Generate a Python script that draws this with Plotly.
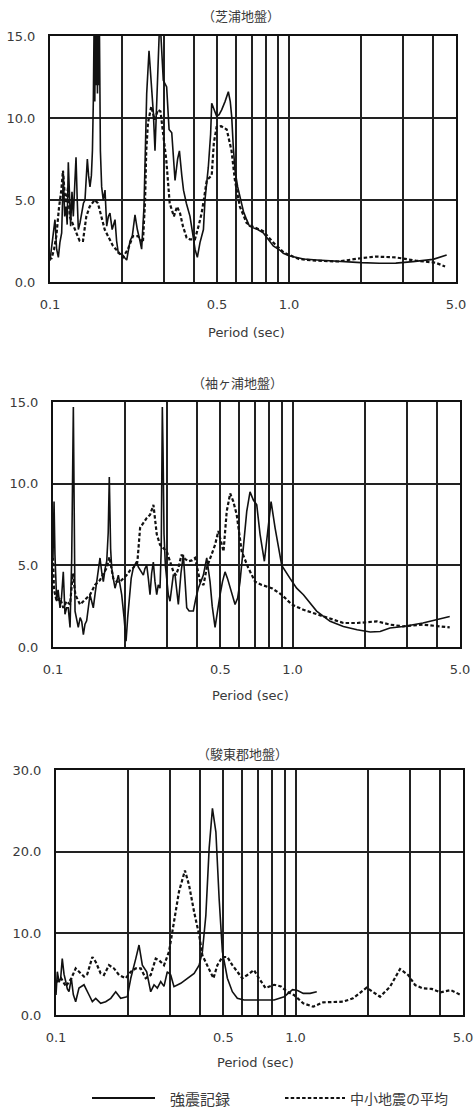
import plotly.graph_objects as go

W, H = 474, 1109

# ---------------- data ----------------
grid_periods = [0.1, 0.2, 0.3, 0.4, 0.5, 0.6, 0.7, 0.8, 0.9, 1.0, 2.0, 3.0, 4.0, 5.0]
grid_labels = ["0.1", "", "", "", "0.5", "", "", "", "", "1.0", "", "", "", "5.0"]
y15_vals = [0, 5, 10, 15]
y15_labels = ["0.0", "5.0", "10.0", "15.0"]
y30_vals = [0, 10, 20, 30]
y30_labels = ["0.0", "10.0", "20.0", "30.0"]

panel_titles = ["（芝浦地盤）", "（袖ヶ浦地盤）", "（駿東郡地盤）"]
x_title = "Period (sec)"
series_names = ["強震記録", "中小地震の平均"]

# 芝浦地盤
shibaura_strong_T = [0.100, 0.1049, 0.1066, 0.1084, 0.1100, 0.1119, 0.1137, 0.1152, 0.1167, 0.1180,
                     0.1193, 0.1207, 0.1220, 0.1236, 0.1252, 0.1270, 0.1285, 0.1300, 0.1314, 0.1335,
                     0.1357, 0.1380, 0.1401, 0.1420, 0.1433, 0.1450, 0.1470, 0.1490, 0.1505, 0.1518,
                     0.1530, 0.1540, 0.1550, 0.1560, 0.1570, 0.1580, 0.1590, 0.1600, 0.1610, 0.1625,
                     0.1645, 0.1670, 0.1699, 0.1727, 0.1755, 0.1782, 0.1820, 0.1871, 0.1900, 0.1932,
                     0.2000, 0.2050, 0.2094, 0.2162, 0.2210, 0.2268, 0.2320, 0.2380, 0.2418, 0.2474,
                     0.2510, 0.2539, 0.2596, 0.2630, 0.2664, 0.2707, 0.2750, 0.2795, 0.2839, 0.2870,
                     0.2900, 0.2979, 0.3077, 0.3150, 0.3232, 0.3290, 0.3336, 0.3420, 0.3480, 0.3560,
                     0.3620, 0.3720, 0.3853, 0.3950, 0.4044, 0.4136, 0.4243, 0.4386, 0.4452, 0.4597,
                     0.4700, 0.4750, 0.4850, 0.4982, 0.5100, 0.5228, 0.5400, 0.5576, 0.5680, 0.5758,
                     0.5850, 0.5946, 0.6100, 0.6237, 0.6450, 0.6652, 0.6836, 0.7095, 0.7400, 0.7803,
                     0.8200, 0.8597, 0.9146, 0.9469, 1.000, 1.077, 1.150, 1.308, 1.500, 1.735,
                     2.000, 2.390, 2.800, 3.300, 4.010, 4.570]
shibaura_strong_A = [1.3, 3.8, 2.0, 1.5, 2.4, 3.0, 6.6, 4.0, 4.6, 3.5,
                     7.3, 4.5, 3.4, 5.5, 4.0, 6.0, 7.6, 5.0, 3.2, 3.6,
                     4.2, 4.8, 5.0, 6.5, 7.5, 6.5, 5.8, 6.5, 8.0, 11.0,
                     16.0, 11.0, 16.0, 12.0, 16.0, 11.5, 16.0, 12.0, 15.5, 8.0,
                     5.8, 5.0, 5.6, 3.4, 4.0, 4.2, 3.2, 3.8, 2.5, 1.75,
                     1.7, 1.5, 1.34, 2.5, 2.8, 4.1, 3.2, 2.5, 2.0, 4.6,
                     8.0, 11.5, 14.1, 13.0, 11.7, 10.3, 8.0, 10.7, 12.1, 15.5,
                     15.5, 12.3, 11.9, 9.3, 9.1, 7.0, 6.2, 7.5, 8.0, 6.5,
                     5.6, 4.8, 4.0, 3.0, 2.0, 1.5, 2.4, 3.2, 5.0, 7.0,
                     9.0, 10.9, 10.6, 10.1, 10.2, 10.5, 11.0, 11.6, 11.0, 10.1,
                     8.2, 6.8, 5.8, 5.2, 4.3, 3.8, 3.4, 3.3, 3.2, 3.0,
                     2.6, 2.2, 1.95, 1.75, 1.6, 1.5, 1.4, 1.34, 1.28, 1.24,
                     1.18, 1.14, 1.15, 1.24, 1.38, 1.65]
shibaura_mean_T = [0.1000, 0.1013, 0.1040, 0.1063, 0.1090, 0.1115, 0.1133, 0.1150, 0.1170, 0.1190,
                   0.1209, 0.1240, 0.1268, 0.1300, 0.1331, 0.1374, 0.1419, 0.1466, 0.1538, 0.1587,
                   0.1639, 0.1694, 0.1749, 0.1835, 0.1925, 0.2020, 0.2119, 0.2223, 0.2333, 0.2448,
                   0.2500, 0.2528, 0.2570, 0.2653, 0.2740, 0.2831, 0.2900, 0.2970, 0.3068, 0.3169,
                   0.3236, 0.3300, 0.3400, 0.3500, 0.3600, 0.3730, 0.3850, 0.4040, 0.4200, 0.4310,
                   0.4400, 0.4530, 0.4750, 0.4850, 0.4980, 0.5200, 0.5490, 0.5750, 0.5940, 0.6230,
                   0.6650, 0.7000, 0.7800, 0.8600, 0.9500, 1.100, 1.300, 1.600, 2.000, 2.300,
                   2.800, 3.400, 4.100, 4.500]
shibaura_mean_A = [1.5, 1.4, 2.0, 2.8, 4.5, 5.6, 6.8, 5.5, 4.8, 5.8,
                   4.0, 3.6, 3.2, 2.8, 2.5, 2.5, 4.0, 4.6, 5.0, 4.8,
                   4.0, 3.2, 2.8, 2.2, 1.85, 1.5, 2.0, 2.8, 2.8, 2.4,
                   5.0, 8.0, 9.7, 10.7, 9.9, 10.5, 10.4, 9.0, 7.4, 4.8,
                   4.4, 4.0, 4.6, 4.2, 3.4, 2.7, 2.6, 2.6, 3.5, 4.2,
                   5.0, 6.2, 6.5, 8.5, 9.45, 9.5, 9.3, 8.0, 6.2, 4.6,
                   3.6, 3.4, 3.1, 2.4, 1.8, 1.4, 1.3, 1.25, 1.45, 1.55,
                   1.5, 1.3, 1.18, 0.95]

# 袖ヶ浦地盤
sodegaura_strong_T = [0.1000, 0.1003, 0.1010, 0.1019, 0.1036, 0.1050, 0.1070, 0.1085, 0.1104, 0.1122,
                      0.1140, 0.1158, 0.1178, 0.1197, 0.1216, 0.1236, 0.1255, 0.1275, 0.1298, 0.1318,
                      0.1339, 0.1360, 0.1382, 0.1405, 0.1427, 0.1450, 0.1473, 0.1500, 0.1522, 0.1550,
                      0.1571, 0.1600, 0.1622, 0.1650, 0.1676, 0.1700, 0.1718, 0.1740, 0.1758, 0.1785,
                      0.1815, 0.1845, 0.1874, 0.1905, 0.1935, 0.1980, 0.2018, 0.2050, 0.2083, 0.2120,
                      0.2164, 0.2200, 0.2236, 0.2270, 0.2308, 0.2345, 0.2383, 0.2420, 0.2462, 0.2500,
                      0.2541, 0.2580, 0.2623, 0.2665, 0.2710, 0.2750, 0.2797, 0.2830, 0.2860, 0.2880,
                      0.2907, 0.2945, 0.2983, 0.3030, 0.3079, 0.3130, 0.3178, 0.3232, 0.3284, 0.3336,
                      0.3420, 0.3500, 0.3560, 0.3616, 0.3700, 0.3853, 0.3950, 0.4044, 0.4243, 0.4383,
                      0.4524, 0.4620, 0.4748, 0.4850, 0.4981, 0.5100, 0.5226, 0.5350, 0.5483, 0.5620,
                      0.5754, 0.5900, 0.6036, 0.6232, 0.6438, 0.6644, 0.6861, 0.7088, 0.7317, 0.7627,
                      0.7881, 0.8135, 0.8453, 0.9013, 0.9760, 1.040, 1.110, 1.260, 1.435, 1.630,
                      1.860, 2.110, 2.320, 2.550, 2.900, 3.500, 4.530]
sodegaura_strong_A = [5.5, 8.7, 8.9, 5.65, 2.8, 3.5, 2.4, 3.0, 4.6, 2.0,
                      2.4, 2.4, 1.2, 5.45, 14.7, 2.2, 1.8, 1.2, 1.8, 1.57,
                      0.75, 1.4, 1.6, 2.5, 3.2, 2.8, 2.4, 3.3, 4.0, 4.8,
                      5.45, 4.5, 4.0, 4.8, 5.25, 7.0, 10.4, 6.0, 4.85, 4.2,
                      3.6, 4.0, 4.4, 3.8, 3.2, 1.8, 0.35, 1.8, 3.2, 4.2,
                      4.85, 5.1, 5.25, 4.9, 4.7, 4.5, 4.4, 4.8, 5.0, 4.2,
                      3.2, 4.5, 5.2, 4.0, 3.2, 3.8, 3.6, 6.0, 14.7, 12.0,
                      6.9, 5.0, 4.0, 3.2, 2.8, 3.8, 4.4, 4.4, 3.4, 2.6,
                      4.5, 5.65, 4.0, 2.4, 2.2, 2.2, 3.0, 3.6, 4.4, 5.45,
                      4.0, 2.5, 1.2, 2.2, 3.2, 4.0, 4.6, 4.2, 3.6, 3.0,
                      2.6, 3.0, 4.0, 6.1, 8.3, 9.5, 9.0, 8.7, 6.9, 5.25,
                      7.3, 8.9, 7.3, 5.0, 4.2, 3.6, 3.2, 2.2, 1.57, 1.26,
                      1.06, 0.92, 0.95, 1.16, 1.26, 1.47, 1.87]
sodegaura_mean_T = [0.1000, 0.1010, 0.1036, 0.1070, 0.1104, 0.1140, 0.1178, 0.1210, 0.1240, 0.1297,
                    0.1339, 0.1380, 0.1427, 0.1498, 0.1571, 0.1640, 0.1676, 0.1720, 0.1785, 0.1850,
                    0.1905, 0.2030, 0.2100, 0.2165, 0.2250, 0.2310, 0.2400, 0.2463, 0.2543, 0.2626,
                    0.2711, 0.2799, 0.2985, 0.3080, 0.3182, 0.3260, 0.3335, 0.3437, 0.3550, 0.3670,
                    0.3800, 0.3918, 0.4115, 0.4250, 0.4383, 0.4748, 0.4900, 0.5151, 0.5310, 0.5490,
                    0.5660, 0.5846, 0.6132, 0.6532, 0.6975, 0.7436, 0.8189, 0.9013, 0.9920, 1.110,
                    1.350, 1.630, 1.860, 2.250, 2.550, 2.900, 3.500, 4.530]
sodegaura_mean_A = [5.5, 3.5, 2.8, 3.0, 2.4, 2.8, 2.6, 4.5, 3.2, 2.6,
                    2.8, 3.0, 3.2, 3.8, 4.1, 4.6, 4.85, 5.5, 4.2, 4.0,
                    4.0, 4.4, 4.7, 4.85, 5.2, 7.3, 7.7, 7.9, 8.1, 8.7,
                    6.9, 6.25, 5.85, 5.3, 4.6, 4.4, 4.8, 5.65, 5.4, 5.25,
                    5.3, 5.45, 4.0, 3.8, 4.85, 6.25, 7.1, 5.85, 8.3, 9.4,
                    8.9, 8.1, 5.85, 4.85, 4.0, 3.8, 3.6, 3.2, 2.6, 2.28,
                    1.87, 1.47, 1.47, 1.57, 1.37, 1.26, 1.37, 1.2]

# 駿東郡地盤
sunto_strong_T = [0.1000, 0.1013, 0.1030, 0.1046, 0.1062, 0.1080, 0.1098, 0.1115, 0.1133, 0.1159,
                  0.1181, 0.1208, 0.1247, 0.1309, 0.1374, 0.1418, 0.1465, 0.1536, 0.1612, 0.1693,
                  0.1775, 0.1862, 0.1985, 0.2052, 0.2153, 0.2221, 0.2293, 0.2391, 0.2485, 0.2566,
                  0.2648, 0.2736, 0.2824, 0.2915, 0.3012, 0.3108, 0.3318, 0.3536, 0.3773, 0.3958,
                  0.4084, 0.4222, 0.4358, 0.4498, 0.4650, 0.4796, 0.4950, 0.5193, 0.5447, 0.5714,
                  0.6096, 0.7160, 0.8141, 0.8964, 0.9718, 1.0200, 1.0766, 1.1500, 1.2260]
sunto_strong_A = [2.45, 5.3, 4.0, 4.5, 6.9, 5.0, 4.1, 3.2, 2.85, 4.5,
                  2.5, 1.63, 3.3, 3.7, 2.45, 1.63, 2.04, 1.43, 1.63, 2.04,
                  2.85, 2.04, 2.24, 4.5, 6.9, 8.57, 6.1, 5.3, 2.85, 3.7,
                  3.3, 4.1, 3.5, 5.3, 4.9, 3.47, 3.88, 4.5, 5.1, 6.1,
                  7.75, 12.2, 20.4, 25.3, 22.4, 14.3, 7.75, 4.5, 2.85, 2.04,
                  1.84, 1.84, 1.84, 2.24, 3.1, 3.0, 2.65, 2.65, 2.85]
sunto_mean_T = [0.1000, 0.1050, 0.1100, 0.1159, 0.1208, 0.1247, 0.1309, 0.1351, 0.1418, 0.1465,
                0.1536, 0.1586, 0.1664, 0.1746, 0.1832, 0.1953, 0.2052, 0.2153, 0.2258, 0.2369,
                0.2485, 0.2608, 0.2693, 0.2824, 0.2963, 0.3108, 0.3261, 0.3454, 0.3593, 0.3773,
                0.3958, 0.4084, 0.4289, 0.4542, 0.4717, 0.4950, 0.5193, 0.5447, 0.5714, 0.5995,
                0.6289, 0.6703, 0.7034, 0.7491, 0.8141, 0.8689, 0.9238, 0.9845, 1.0766, 1.185,
                1.304, 1.435, 1.579, 1.737, 1.980, 2.253, 2.480, 2.730, 2.950, 3.155,
                3.390, 3.700, 4.030, 4.440, 4.900]
sunto_mean_A = [4.0, 4.5, 3.5, 4.5, 5.7, 5.3, 4.7, 5.0, 7.1, 6.5,
                5.1, 4.9, 6.1, 5.7, 4.9, 4.5, 5.3, 5.7, 5.7, 4.5,
                4.9, 6.9, 6.7, 6.1, 7.75, 11.4, 15.1, 17.7, 15.9, 12.6,
                9.8, 7.3, 6.1, 4.5, 6.1, 7.1, 7.1, 6.1, 5.3, 4.5,
                4.9, 5.5, 4.5, 3.3, 3.7, 3.5, 2.85, 2.45, 1.43, 1.02,
                1.55, 1.63, 1.63, 2.04, 3.35, 2.24, 3.47, 5.63, 4.9, 3.67,
                3.27, 3.2, 2.78, 3.06, 2.45]

# ---------------- layout helpers ----------------
def fx(px):
    return px / W


def fy(py):
    return 1 - py / H


# plot-area pixel boxes (left, right, top, bottom) for each panel
boxes = [(50, 456, 36, 282), (53, 460, 402, 647), (56, 463, 770, 1015)]
title_y = [15, 382, 753]
title_x = [241, 237, 243]
xtitle_y = [332, 695, 1062]
xtitle_x = [247, 250, 255]

panels = [
    (shibaura_strong_T, shibaura_strong_A, shibaura_mean_T, shibaura_mean_A, 15, y15_vals, y15_labels),
    (sodegaura_strong_T, sodegaura_strong_A, sodegaura_mean_T, sodegaura_mean_A, 15, y15_vals, y15_labels),
    (sunto_strong_T, sunto_strong_A, sunto_mean_T, sunto_mean_A, 30, y30_vals, y30_labels),
]

LINE = "#111111"
GRID = "#222222"
TEXT = "#3a3a3a"
NUMFONT = "DejaVu Sans"
JPFONT = "Noto Sans CJK JP"
DASH = "3.5px,2.2px"

fig = go.Figure()
layout = dict(
    width=W, height=H, autosize=False,
    margin=dict(l=0, r=0, t=0, b=0, pad=0, autoexpand=False),
    paper_bgcolor="white", plot_bgcolor="white",
    showlegend=False,
    annotations=[], shapes=[],
)

for i, (sT, sA, mT, mA, ymax, yv, yl) in enumerate(panels):
    n = "" if i == 0 else str(i + 1)
    xa, ya = "x" + n, "y" + n
    fig.add_trace(go.Scatter(x=mT, y=mA, mode="lines", name=series_names[1], xaxis=xa, yaxis=ya,
                             line=dict(color=LINE, width=2.2, dash=DASH)))
    fig.add_trace(go.Scatter(x=sT, y=sA, mode="lines", name=series_names[0], xaxis=xa, yaxis=ya,
                             line=dict(color=LINE, width=1.6)))
    l, r, t, b = boxes[i]
    layout["xaxis" + n] = dict(
        type="log", range=[-1, 0.69897], domain=[fx(l), fx(r)], anchor=ya,
        tickmode="array", tickvals=grid_periods, ticktext=grid_labels,
        showgrid=True, gridcolor=GRID, gridwidth=2,
        showline=True, mirror=True, linecolor=LINE, linewidth=2,
        ticks="", ticklabelstandoff=9, automargin=False,
        tickfont=dict(family=NUMFONT, size=13, color=TEXT), zeroline=False,
    )
    layout["yaxis" + n] = dict(
        range=[0, ymax], domain=[fy(b), fy(t)], anchor=xa,
        tickmode="array", tickvals=yv, ticktext=yl,
        showgrid=True, gridcolor=GRID, gridwidth=2,
        showline=True, mirror=True, linecolor=LINE, linewidth=2,
        ticks="", ticklabelstandoff=10, automargin=False,
        tickfont=dict(family=NUMFONT, size=13, color=TEXT), zeroline=False,
    )
    layout["annotations"].append(dict(
        text=panel_titles[i], x=fx(title_x[i]), y=fy(title_y[i]), xref="paper", yref="paper",
        showarrow=False, xanchor="center", yanchor="middle",
        font=dict(family=JPFONT, size=13, color=TEXT)))
    layout["annotations"].append(dict(
        text=x_title, x=fx(xtitle_x[i]), y=fy(xtitle_y[i]), xref="paper", yref="paper",
        showarrow=False, xanchor="center", yanchor="middle",
        font=dict(family=NUMFONT, size=13, color=TEXT)))

# legend (drawn manually at the bottom)
leg_y = fy(1098)
layout["shapes"].append(dict(type="line", xref="paper", yref="paper", x0=fx(92), x1=fx(155),
                             y0=leg_y, y1=leg_y, line=dict(color=LINE, width=1.8)))
layout["shapes"].append(dict(type="line", xref="paper", yref="paper", x0=fx(285), x1=fx(345),
                             y0=leg_y, y1=leg_y, line=dict(color=LINE, width=2.2, dash=DASH)))
layout["annotations"].append(dict(text=series_names[0], x=fx(168), y=leg_y, xref="paper", yref="paper",
                                  showarrow=False, xanchor="left", yanchor="middle",
                                  font=dict(family=JPFONT, size=15, color=TEXT)))
layout["annotations"].append(dict(text=series_names[1], x=fx(348), y=leg_y, xref="paper", yref="paper",
                                  showarrow=False, xanchor="left", yanchor="middle",
                                  font=dict(family=JPFONT, size=14, color=TEXT)))

fig.update_layout(**layout)
fig.write_html(
    "out.html",
    config={"responsive": False, "displayModeBar": False, "staticPlot": True},
    post_script="document.body.style.margin='0';document.body.style.overflow='hidden';",
)
